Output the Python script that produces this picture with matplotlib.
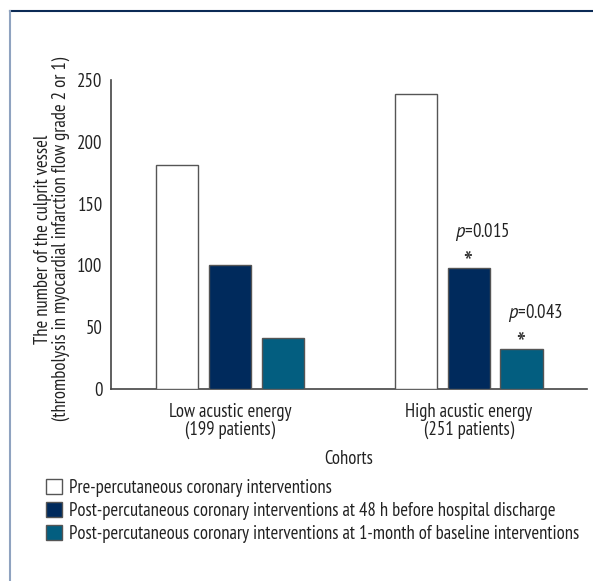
import matplotlib
matplotlib.use("Agg")
import matplotlib.pyplot as plt
from matplotlib.patches import Patch
from matplotlib.lines import Line2D

plt.rcParams['font.family'] = ['PT Sans Narrow', 'DejaVu Sans']
plt.rcParams['mathtext.fontset'] = 'custom'
plt.rcParams['mathtext.it'] = 'PT Sans:italic'
plt.rcParams['mathtext.rm'] = 'PT Sans Narrow'

# Data
cohorts = ['Low acustic energy\n(199 patients)', 'High acustic energy\n(251 patients)']
pre_pci = [181, 239]
post_48h = [100, 98]
post_1m = [41, 32]
series_labels = ['Pre-percutaneous coronary interventions',
                 'Post-percutaneous coronary interventions at 48 h before hospital discharge',
                 'Post-percutaneous coronary interventions at 1-month of baseline interventions']
p_48h = [None, '0.015']
p_1m = [None, '0.043']

colors = ['white', '#002a5c', '#035e80']
edge = '#555555'
fs = 13.4

fig = plt.figure(figsize=(5.93, 5.81), dpi=100)
W, H = 593, 581
ax = fig.add_axes([111 / W, 1 - 389 / H, (587 - 111) / W, (389 - 80) / H])

x = [1, 2]
bw = 0.176
off = 0.22
series = [pre_pci, post_48h, post_1m]
for k, (vals, c) in enumerate(zip(series, colors)):
    xs = [xi + (k - 1) * off for xi in x]
    ax.bar(xs, vals, width=bw, color=c, edgecolor=edge, linewidth=1.0, zorder=3)

# significance marks
for k, pv in ((1, p_48h), (2, p_1m)):
    vals = series[k]
    for i, p in enumerate(pv):
        if p is None:
            continue
        bx = x[i] + (k - 1) * off
        ax.annotate('*', (bx, vals[i]), xytext=(-1, 4), textcoords='offset pixels',
                    ha='center', va='center', fontsize=22, color='#333333')
        ax.annotate('$p$=' + p, (bx, vals[i]), xytext=(-14, 36), textcoords='offset pixels',
                    ha='left', va='center', fontsize=fs, color='#222222')

ax.set_xlim(0.502, 2.494)
ax.set_ylim(0, 250)
ax.set_yticks([0, 50, 100, 150, 200, 250])
ax.set_xticks(x)
ax.set_xticklabels(cohorts, fontsize=fs, color='#222222', linespacing=1.0)
ax.tick_params(axis='both', length=0, labelsize=fs, colors='#222222')
ax.tick_params(axis='y', pad=6)
ax.tick_params(axis='x', pad=10)
for s in ('top', 'right'):
    ax.spines[s].set_visible(False)
for s in ('left', 'bottom'):
    ax.spines[s].set_color('#444444')
    ax.spines[s].set_linewidth(1.2)

ax.set_xlabel('Cohorts', fontsize=fs, color='#222222', labelpad=8)
ax.set_ylabel('The number of the culprit vessel\n(thrombolysis in myocardial infarction flow grade 2 or 1)',
              fontsize=fs, color='#222222', linespacing=1.0)
ax.yaxis.set_label_coords(-0.086, 0.485)

handles = [Patch(facecolor=c, edgecolor=edge, linewidth=1.0) for c in colors]
fig.legend(handles, series_labels, loc='upper left', bbox_to_anchor=(46 / W, 1 - 479 / H),
           frameon=False, fontsize=fs, handlelength=0.85, handleheight=0.85,
           handletextpad=0.4, labelspacing=0.26, borderaxespad=0, borderpad=0,
           labelcolor='#222222')

# page frame
fig.add_artist(Line2D([10 / W, 1], [1 - 11 / H, 1 - 11 / H], color='#0b2a55', lw=1.5))
fig.add_artist(Line2D([10 / W, 10 / W], [0, 1 - 11 / H], color='#8fa3c0', lw=1.5))

fig.savefig('out.png', dpi=100)
